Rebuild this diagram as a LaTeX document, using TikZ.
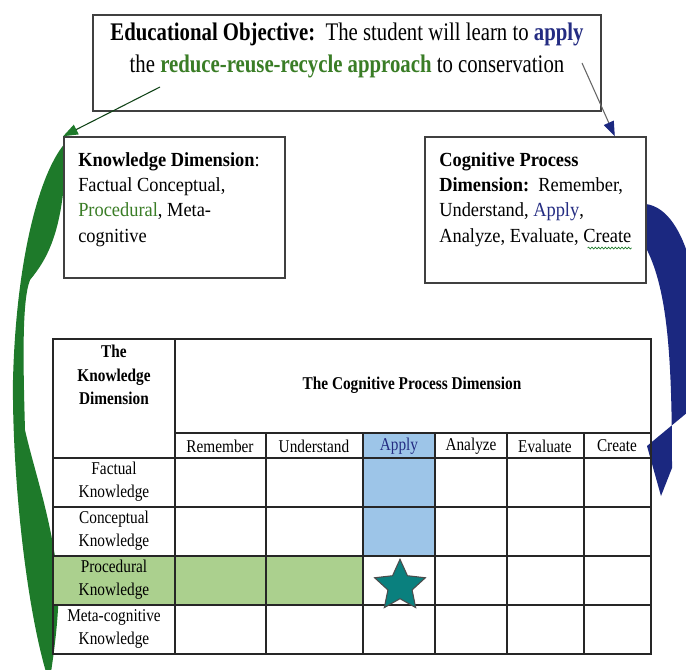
\documentclass[tikz,border=0pt]{standalone}
\usepackage{fontspec}
\setmainfont{Liberation Serif}
\newfontfamily\objfont{Liberation Serif}[FakeStretch=0.82]
\newfontfamily\boxfont{Liberation Serif}[FakeStretch=0.92]
\newfontfamily\cellfont{Liberation Serif}[FakeStretch=0.85]
\usetikzlibrary{shapes}
\usetikzlibrary{arrows.meta}
\usetikzlibrary{positioning}
\usetikzlibrary{decorations.pathmorphing}

\definecolor{applyblue}{RGB}{36,44,130}
\definecolor{arrowblue}{RGB}{27,40,128}
\definecolor{textgreen}{RGB}{58,125,38}
\definecolor{leafgreen}{RGB}{30,122,42}
\definecolor{applyfill}{RGB}{157,197,232}
\definecolor{procfill}{RGB}{171,208,142}
\definecolor{starteal}{RGB}{10,128,126}

\tikzstyle{frame}=[rectangle,draw=black!75,line width=1.2pt,fill=white,inner sep=0pt]
\tikzstyle{objtext}=[align=center,inner sep=0pt,anchor=north,
        font=\objfont\fontsize{19}{24}\selectfont]
\tikzstyle{boxtext}=[align=left,inner sep=0pt,anchor=north west,
        font=\boxfont\fontsize{15}{19}\selectfont]
\tikzstyle{cell}=[align=center,inner sep=0pt,
        font=\cellfont\fontsize{13.5}{17.5}\selectfont]
\tikzstyle{grid}=[draw=black!85,line width=0.9pt]
\tikzstyle{thin}=[line width=0.8pt]
\tikzstyle{squiggle}=[draw=leafgreen,line width=0.5pt,
        decorate,decoration={snake,amplitude=0.7pt,segment length=2.5pt}]
\tikzstyle{staricon}=[star,star points=5,star point ratio=2.1,minimum size=40pt,
        inner sep=0pt,fill=starteal,draw=black!70,line width=0.8pt]

\begin{document}
\begin{tikzpicture}[x=0.75pt,y=-0.75pt]
\path[use as bounding box,fill=white] (0,0) rectangle (686,670);

% big curved arrows
\begin{scope}
\clip (0,0) rectangle (686,670);
\fill[leafgreen] (70,138) .. controls (40,165) and (16,260) .. (13,380)
  .. controls (12,470) and (25,600) .. (46,672)
  -- (51,672)
  .. controls (56,640) and (60,600) .. (58,580)
  .. controls (52,520) and (34,470) .. (25,430)
  .. controls (23,360) and (22,300) .. (30,280)
  .. controls (48,258) and (64,230) .. (66,150) -- cycle;
\fill[arrowblue] (646,204) .. controls (688,210) and (708,300) .. (701,414)
  -- (712,392) -- (647,446) -- (661,496) -- (672,468)
  .. controls (672,360) and (668,290) .. (646,248) -- cycle;
\end{scope}

% boxes
\node[frame,minimum width=381pt,minimum height=72pt] (objective) at (347,63) {};
\node[objtext] (objtext) at (347,23) {\textbf{Educational Objective:}\ \ The student will learn to \textcolor{applyblue}{\textbf{apply}}\\
  the \textcolor{textgreen}{\textbf{reduce-reuse-recycle approach}} to conservation};

\node[frame,minimum width=165.75pt,minimum height=105.75pt] (knowbox) at (174.5,207.5) {};
\node[boxtext] (knowtext) at (78,152) {\textbf{Knowledge Dimension}:\\
  Factual Conceptual,\\ \textcolor{textgreen}{Procedural}, Meta-\\ cognitive};

\node[frame,minimum width=165.75pt,minimum height=109.5pt] (cogbox) at (535.5,210) {};
\node[boxtext] (cogtext) at (439,152) {\textbf{Cognitive Process}\\
  \textbf{Dimension:}\ \ Remember,\\ Understand, \textcolor{applyblue}{Apply},\\
  Analyze, Evaluate, Create};
\draw[squiggle] ([xshift=-33pt,yshift=-1pt]cogtext.south east) -- ([yshift=-1pt]cogtext.south east);

% taxonomy table
\fill[applyfill] (363,433) rectangle (435,556);
\fill[procfill] (53,556) rectangle (363,605);
\draw[grid] (53,339) rectangle (651,654);
\draw[grid] (175,339) -- (175,654);
\draw[grid] (175,433) -- (651,433);
\foreach \y in {458,507,556,605}
  \draw[grid] (53,\y) -- (651,\y);
\foreach \x in {266,363,435,507,584}
  \draw[grid] (\x,433) -- (\x,654);

\node[cell,anchor=north] (kdhead) at (114,345) {\textbf{The}\\ \textbf{Knowledge}\\ \textbf{Dimension}};
\node[cell] (cphead) at (412,385) {\textbf{The Cognitive Process Dimension}};
\foreach \cx/\name/\col in {220/Remember/black,314/Understand/black,399/Apply/applyblue,
    471/Analyze/black,545/Evaluate/black,617/Create/black}
  \node[cell,text=\col] (col-\name) at (\cx,446) {\name};
\foreach \cy/\name in {482/Factual,531/Conceptual,580/Procedural,629/Meta-cognitive}
  \node[cell] (row-\name) at (114,\cy) {\name\\ Knowledge};

\node[staricon] (goal) at (400,586) {};

% thin arrows from the objective
\coordinate (greenstart) at (160,87);
\coordinate (bluestart) at (582,63);
\draw[thin,draw=black!45!leafgreen,-{Triangle[length=11pt,width=8pt,color=leafgreen]}]
  (greenstart) -- (knowbox.north west);
\draw[thin,draw=black!60,-{Triangle[length=11pt,width=8pt,color=arrowblue]}]
  (bluestart) -- ([xshift=-24pt]cogbox.north east);
\end{tikzpicture}
\end{document}
